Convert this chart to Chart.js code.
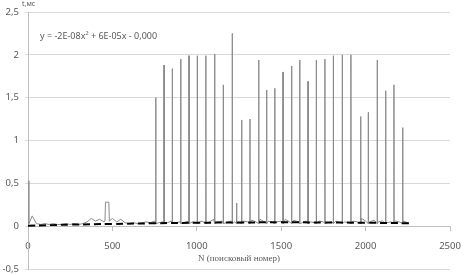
<!DOCTYPE html>
<html><head><meta charset="utf-8">
<script src="https://cdn.jsdelivr.net/npm/chart.js@4"></script>
<style>html,body{margin:0;padding:0;background:#fff;}#wrap{width:464px;height:275px;position:relative;}</style>
</head><body><div id="wrap"><canvas id="c" width="464" height="275"></canvas></div>
<script>
// Axis ticks
const xTicks = [0, 500, 1000, 1500, 2000, 2500];
const yTicks = [-0.5, 0, 0.5, 1, 1.5, 2, 2.5];
// Baseline readings every 25 search numbers (N = 0..2250)
const baseStep = 25;
const baseT = [
  0.06,0.12,0.03,0.02,0.03,0.02,0.03,0.02,0.02,0.03,
  0.02,0.03,0.02,0.03,0.05,0.09,0.06,0.08,0.05,0.06,
  0.09,0.05,0.08,0.04,0.03,0.04,0.03,0.04,0.05,0.04,
  0.06,0.04,0.05,0.04,0.06,0.04,0.05,0.04,0.06,0.05,
  0.04,0.06,0.04,0.05,0.08,0.05,0.06,0.04,0.06,0.05,
  0.04,0.06,0.05,0.07,0.05,0.08,0.05,0.06,0.04,0.05,
  0.06,0.08,0.05,0.07,0.05,0.04,0.06,0.05,0.04,0.06,
  0.05,0.04,0.05,0.06,0.04,0.05,0.04,0.06,0.05,0.09,
  0.06,0.05,0.07,0.05,0.06,0.04,0.05,0.06,0.05,0.06,
  0.04
];
// Plateau near N≈460-480
const bumpN = [456, 459, 479, 482];
const bumpT = [0.06, 0.28, 0.28, 0.06];
// Spikes
const spikeN = [5, 757, 806, 855, 905, 954, 1003, 1054, 1106, 1157, 1210, 1236, 1266, 1315, 1367, 1414, 1462, 1511, 1562, 1610, 1659, 1708, 1759, 1809, 1862, 1913, 1971, 2016, 2069, 2119, 2168, 2220];
const spikeT = [0.53, 1.50, 1.88, 1.84, 1.95, 1.99, 1.99, 1.99, 2.01, 1.65, 2.25, 0.27, 1.24, 1.25, 1.94, 1.59, 1.61, 1.80, 1.87, 1.94, 1.69, 1.94, 1.95, 1.99, 2.00, 2.00, 1.28, 1.33, 1.94, 1.58, 1.65, 1.15];
const spikeFoot = 0.03;
// Polynomial trend line readings
const trendN = [0, 250, 500, 750, 1000, 1250, 1500, 1750, 2000, 2260];
const trendT = [0.005, 0.018, 0.026, 0.034, 0.040, 0.043, 0.045, 0.043, 0.040, 0.034];
const eqText = 'y = -2E-08x² + 6E-05x - 0,000';
const yTitle = 't,мс';
const xTitle = 'N (поисковый номер)';

// build main series
let pts = [];
baseT.forEach((v, i) => {
  const n = i * baseStep;
  if (n >= bumpN[0] && n <= bumpN[bumpN.length - 1]) return;
  pts.push({x: n, y: v});
});
bumpN.forEach((n, i) => pts.push({x: n, y: bumpT[i]}));
spikeN.forEach((n, i) => {
  pts.push({x: n - 0.6, y: spikeFoot});
  pts.push({x: n, y: spikeT[i]});
  pts.push({x: n + 0.6, y: spikeFoot});
});
pts.sort((a, b) => a.x - b.x);
const trendPts = trendN.map((n, i) => ({x: n, y: trendT[i]}));

const textPlugin = {
  id: 'texts',
  afterDraw(chart) {
    const ctx = chart.ctx;
    ctx.save();
    ctx.fillStyle = '#595959';
    ctx.textBaseline = 'middle';
    ctx.textAlign = 'left';
    ctx.font = '7px "Noto Sans"';
    ctx.fillText(yTitle, 22, 4);
    ctx.font = '9px "Noto Sans"';
    ctx.fillText(eqText, 40, 36);
    ctx.textAlign = 'center';
    ctx.font = '9px "Liberation Serif"';
    ctx.fillText(xTitle, (chart.chartArea.left + chart.chartArea.right) / 2, 259);
    ctx.restore();
  }
};

new Chart(document.getElementById('c'), {
  type: 'scatter',
  data: {
    datasets: [
      {data: trendPts, showLine: true, borderColor: '#000', borderWidth: 2, borderDash: [7, 4], pointRadius: 0, tension: 0.4, order: 0},
      {data: pts, showLine: true, borderColor: '#8a8a8a', borderWidth: 1, pointRadius: 0, tension: 0, order: 1}
    ]
  },
  options: {
    responsive: false,
    animation: false,
    events: [],
    layout: {padding: {left: 0, top: 12, right: 14, bottom: 6}},
    plugins: {legend: {display: false}, tooltip: {enabled: false}},
    scales: {
      x: {
        type: 'linear', position: {y: 0}, min: 0, max: 2500,
        afterBuildTicks(s) { s.ticks = xTicks.map(v => ({value: v})); },
        afterFit(s) { s.paddingLeft = 0; s.paddingRight = 0; },
        grid: {drawOnChartArea: false, drawTicks: true, tickLength: 4, color: '#bfbfbf'},
        border: {display: true, color: '#bfbfbf'},
        ticks: {color: '#595959', font: {family: 'Noto Sans', size: 9.5}, padding: 10, maxRotation: 0,
          callback: v => String(v)}
      },
      y: {
        type: 'linear', min: -0.5, max: 2.5,
        afterBuildTicks(s) { s.ticks = yTicks.map(v => ({value: v})); },
        afterFit(s) { s.width = 28; s.paddingTop = 0; s.paddingBottom = 0; },
        grid: {color: '#d9d9d9', tickLength: 3, drawTicks: true},
        border: {display: true, color: '#bfbfbf'},
        ticks: {color: '#595959', font: {family: 'Noto Sans', size: 9.5}, padding: 6,
          callback: v => String(v).replace('.', ',')}
      }
    }
  },
  plugins: [textPlugin]
});
</script></body></html>
